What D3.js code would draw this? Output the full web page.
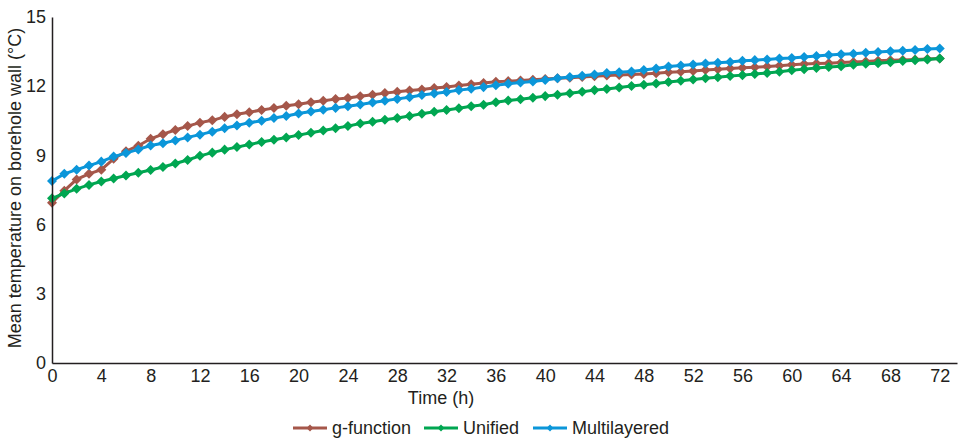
<!DOCTYPE html>
<html>
<head>
<meta charset="utf-8">
<script src="https://cdn.jsdelivr.net/npm/d3@7"></script>
<style>
  body { margin: 0; background: #fff; }
  svg { display: block; font-family: "Liberation Sans", Arial, sans-serif; }
</style>
</head>
<body>
<svg id="chart"></svg>
<script>
const SVG_WIDTH = 968;
const SVG_HEIGHT = 439;

// time in hours
const hours = [0, 1, 2, 3, 4, 5, 6, 7, 8, 9, 10, 11, 12, 13, 14, 15, 16, 17, 18, 19, 20,
  21, 22, 23, 24, 25, 26, 27, 28, 29, 30, 31, 32, 33, 34, 35, 36, 37, 38, 39, 40,
  41, 42, 43, 44, 45, 46, 47, 48, 49, 50, 51, 52, 53, 54, 55, 56, 57, 58, 59, 60,
  61, 62, 63, 64, 65, 66, 67, 68, 69, 70, 71, 72];

const gFunction = [6.95, 7.47, 7.96, 8.2, 8.38, 8.85, 9.18, 9.42, 9.72, 9.92, 10.1,
  10.27, 10.42, 10.52, 10.67, 10.78, 10.87, 10.97, 11.05, 11.15, 11.22,
  11.3, 11.37, 11.44, 11.49, 11.56, 11.63, 11.7, 11.76, 11.81, 11.86,
  11.92, 11.97, 12.03, 12.08, 12.14, 12.19, 12.22, 12.25, 12.28, 12.31,
  12.34, 12.37, 12.4, 12.43, 12.46, 12.49, 12.51, 12.53, 12.56, 12.6,
  12.63, 12.66, 12.7, 12.73, 12.77, 12.8, 12.82, 12.85, 12.89, 12.93,
  12.96, 12.98, 13.0, 13.03, 13.05, 13.07, 13.1, 13.12, 13.14, 13.16,
  13.18, 13.2];

const unified = [7.14, 7.35, 7.55, 7.72, 7.87, 8.0, 8.13, 8.25, 8.37, 8.5, 8.65,
  8.8, 8.98, 9.12, 9.25, 9.36, 9.47, 9.58, 9.68, 9.78, 9.88,
  9.98, 10.08, 10.18, 10.27, 10.38, 10.46, 10.55, 10.62, 10.71, 10.81,
  10.89, 10.97, 11.04, 11.13, 11.2, 11.3, 11.38, 11.43, 11.5, 11.57,
  11.63, 11.69, 11.76, 11.83, 11.88, 11.94, 12.01, 12.06, 12.12, 12.18,
  12.24, 12.29, 12.34, 12.39, 12.44, 12.48, 12.53, 12.57, 12.63, 12.69,
  12.74, 12.79, 12.83, 12.87, 12.93, 12.97, 13.0, 13.04, 13.09, 13.13,
  13.16, 13.2];

const multilayered = [7.89, 8.2, 8.38, 8.56, 8.73, 8.95, 9.1, 9.26, 9.43, 9.53, 9.65,
  9.78, 9.9, 10.03, 10.18, 10.3, 10.42, 10.5, 10.62, 10.71, 10.82,
  10.9, 10.98, 11.06, 11.13, 11.21, 11.29, 11.37, 11.45, 11.52, 11.62,
  11.68, 11.75, 11.83, 11.89, 11.96, 12.04, 12.11, 12.16, 12.2, 12.27,
  12.34, 12.4, 12.45, 12.51, 12.57, 12.6, 12.64, 12.7, 12.77, 12.85,
  12.9, 12.94, 12.98, 13.02, 13.05, 13.1, 13.13, 13.16, 13.2, 13.22,
  13.27, 13.31, 13.35, 13.38, 13.41, 13.45, 13.48, 13.51, 13.54, 13.57,
  13.61, 13.63];

const seriesNames = ["g-function", "Unified", "Multilayered"];
const seriesColors = ["#a5574a", "#00a651", "#0b96d9"];
const xTicks = [0, 4, 8, 12, 16, 20, 24, 28, 32, 36, 40, 44, 48, 52, 56, 60, 64, 68, 72];
const yTicks = [0, 3, 6, 9, 12, 15];

function draw_chart() {
    let svg = d3.select("#chart")
        .attr("width", SVG_WIDTH)
        .attr("height", SVG_HEIGHT);

    let x = d3.scaleLinear().domain([0, 73.4]).range([52, 957]);
    let y = d3.scaleLinear().domain([0, 15]).range([363, 17]);

    let allSeries = [gFunction, unified, multilayered];
    let diamond = d3.symbol().type(d3.symbolDiamond2).size(64);
    let line = d3.line()
        .x((d, i) => x(hours[i]))
        .y(d => y(d));

    // lines + markers
    allSeries.forEach((vals, s) => {
        let g = svg.append("g");
        g.append("path")
            .datum(vals)
            .attr("d", line)
            .attr("fill", "none")
            .attr("stroke", seriesColors[s])
            .attr("stroke-width", 3);
        g.selectAll("path.mk")
            .data(vals)
            .enter()
            .append("path")
            .attr("class", "mk")
            .attr("d", diamond)
            .attr("transform", (d, i) => "translate(" + x(hours[i]) + "," + y(d) + ")")
            .attr("fill", seriesColors[s]);
    });

    // axes
    let xAxis = svg.append("g")
        .attr("transform", "translate(0,363)")
        .call(d3.axisBottom(x).tickValues(xTicks).tickSize(0).tickPadding(6));
    let yAxis = svg.append("g")
        .attr("transform", "translate(52,0)")
        .call(d3.axisLeft(y).tickValues(yTicks).tickSize(0).tickPadding(6));
    [xAxis, yAxis].forEach(a => {
        a.select(".domain").attr("stroke", "#231f20").attr("stroke-width", 1.5);
        a.selectAll("text")
            .attr("fill", "#231f20")
            .style("font-size", "18px")
            .style("font-family", "'Liberation Sans', Arial, sans-serif");
    });

    svg.append("text")
        .attr("x", 441)
        .attr("y", 404)
        .attr("text-anchor", "middle")
        .attr("fill", "#231f20")
        .style("font-size", "18px")
        .text("Time (h)");

    svg.append("text")
        .attr("transform", "translate(21,188) rotate(-90)")
        .attr("text-anchor", "middle")
        .attr("fill", "#231f20")
        .style("font-size", "18px")
        .text("Mean temperature on borehole wall (°C)");

    // legend
    let legendX = [293, 424, 533];
    let legendDiamond = d3.symbol().type(d3.symbolDiamond2).size(30);
    seriesNames.forEach((name, s) => {
        let lg = svg.append("g").attr("transform", "translate(" + legendX[s] + ",428)");
        lg.append("line")
            .attr("x1", 0).attr("x2", 34)
            .attr("stroke", seriesColors[s])
            .attr("stroke-width", 3);
        lg.append("path")
            .attr("d", legendDiamond)
            .attr("transform", "translate(17,0)")
            .attr("fill", seriesColors[s]);
        lg.append("text")
            .attr("x", 39)
            .attr("y", 6)
            .attr("fill", "#231f20")
            .style("font-size", "18px")
            .text(name);
    });
}

window.onload = function init(e) {
    draw_chart();
};
</script>
</body>
</html>
